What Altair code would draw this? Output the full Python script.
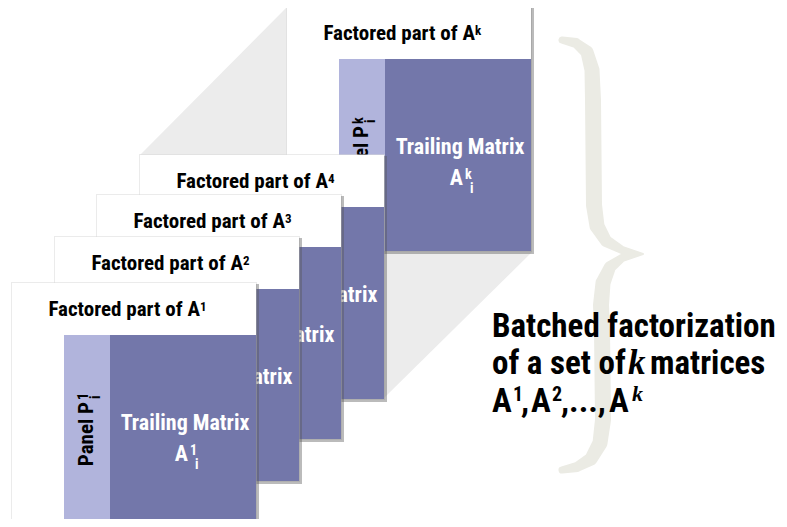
import altair as alt
import pandas as pd

# ---------------- data ----------------
# panels listed back (A^k) to front (A^1); screen-pixel positions of top-left corners
panel_names = ["k", "4", "3", "2", "1"]
panel_left = [287, 140, 97, 55, 12]
panel_top = [7, 155, 195, 237, 283]
panel_size = 244
header_height = 52
column_edges = [52, 98]          # light "Panel" column inside a panel

# grey extrusion between A^4 and A^k
hull_x = [140, 287, 384, 532]
hull_top = [155, 7, 7, 7]
hull_bottom = [398, 398, 398, 252]

# curly brace centre line and stroke widths
brace_x = [562, 576, 587, 592, 593, 594, 597, 606, 622, 643,
           622, 610, 603, 601, 602, 603, 600, 591, 577, 562]
brace_y = [40, 43, 52, 70, 100, 205, 226, 241, 250, 254,
           258, 267, 283, 305, 330, 420, 443, 459, 467, 470]
brace_w = [7, 10, 13, 15, 16, 16, 15, 12, 8, 2,
           8, 12, 15, 16, 16, 16, 15, 13, 10, 7]

# big caption pieces: text, x, baseline y, size, italic
caption_text = ["Batched factorization", "of a set of", "k", "matrices",
                "A", "1", ",", "A", "2", ",...,", "A", "k"]
caption_x = [492, 492, 628, 650, 492, 513, 521, 531, 552, 561, 609, 632]
caption_y = [337, 374, 374, 374, 412, 401, 412, 412, 401, 412, 412, 401]
caption_size = [33, 33, 35, 33, 33, 20, 33, 33, 20, 33, 33, 22]
caption_italic = [False, False, True, False, False, False, False, False, False, False, False, True]

FONT = "Roboto Condensed, Liberation Sans Narrow, Roboto, sans-serif"
SERIF = "Liberation Serif, DejaVu Serif, serif"
DARK = "#7377aa"
LIGHT = "#b1b4dc"
HULL = "#ececec"
BRACE = "#ebebe4"

W, H = 771, 511
xs = alt.Scale(domain=[8, 8 + W], nice=False, zero=False)
ys = alt.Scale(domain=[8, 8 + H], nice=False, zero=False, reverse=True)


def X(f="x"):
    return alt.X(f"{f}:Q", scale=xs, axis=None)


def Y(f="y"):
    return alt.Y(f"{f}:Q", scale=ys, axis=None)


layers = []

# hull
hull_df = pd.DataFrame({"x": hull_x, "y": hull_top, "y2": hull_bottom})
layers.append(
    alt.Chart(hull_df).mark_area(color=HULL, interpolate="linear").encode(
        x=X(), y=Y(), y2="y2:Q"
    )
)

# brace
brace_df = pd.DataFrame({"x": brace_x, "y": brace_y, "w": brace_w,
                         "i": list(range(len(brace_x)))})
layers.append(
    alt.Chart(brace_df).mark_trail(color=BRACE).encode(
        x=X(), y=Y(), size=alt.Size("w:Q", scale=None), order=alt.Order("i:Q")
    )
)

# caption
cap_df = pd.DataFrame({"t": caption_text, "x": caption_x, "y": caption_y,
                       "s": caption_size, "it": caption_italic})
for italic, font, style in [(False, FONT, "normal"), (True, SERIF, "italic")]:
    sub = cap_df[cap_df["it"] == italic]
    layers.append(
        alt.Chart(sub).mark_text(font=font, fontWeight="bold", fontStyle=style,
                                 align="left", baseline="alphabetic", color="black").encode(
            x=X(), y=Y(), text="t:N", size=alt.Size("s:Q", scale=None)
        )
    )

# panels
for name, L, T in zip(panel_names, panel_left, panel_top):
    rects = pd.DataFrame({
        "x": [L - 1, L + 1, L, L + column_edges[0], L + column_edges[1]],
        "x2": [L + panel_size + 1, L + panel_size + 3, L + panel_size,
               L + column_edges[1], L + panel_size],
        "y": [T - 1, T + 1, T, T + header_height, T + header_height],
        "y2": [T + panel_size + 1, T + panel_size + 3, T + panel_size,
               T + panel_size, T + panel_size],
        "c": ["#d8d8d8", "#555555", "white", LIGHT, DARK],
        "o": [0.5, 0.4, 1, 1, 1],
    })
    layers.append(
        alt.Chart(rects).mark_rect(clip=True).encode(
            x=X(), x2="x2:Q", y=Y(), y2="y2:Q",
            color=alt.Color("c:N", scale=None), opacity=alt.Opacity("o:Q", scale=None)
        )
    )
    texts = pd.DataFrame({
        "t": ["Factored part of A", "A", "Panel P", "Trailing Matrix",
              name, name, "i", name, "i"],
        "x": [L + 188, L + 176, L + 81, L + 173,
              L + 188, L + 178, L + 183, L + 76, L + 88],
        "y": [T + 33, T + 178, T + 119, T + 147,
              T + 28, T + 172, T + 186, T + 117, T + 116],
        "s": [21, 22, 21, 22, 13, 14, 14, 14, 14],
        "c": ["black", "white", "black", "white", "black", "white", "white", "black", "black"],
        "a": [0, 0, 270, 0, 0, 0, 0, 270, 270],
        "al": ["right", "right", "right", "center", "left", "left", "left", "left", "left"],
    })
    for al in ["left", "center", "right"]:
        sub = texts[texts["al"] == al]
        layers.append(
            alt.Chart(sub).mark_text(font=FONT, fontWeight="bold", align=al,
                                     baseline="alphabetic", clip=True).encode(
                x=X(), y=Y(), text="t:N",
                size=alt.Size("s:Q", scale=None),
                color=alt.Color("c:N", scale=None),
                angle=alt.Angle("a:Q", scale=None),
            )
        )

chart = alt.layer(*layers).properties(
    width=W, height=H, padding=0, background="white",
    autosize=alt.AutoSizeParams(type="none"),
).configure_view(stroke=None)

chart.save("out.html", embed_options={"renderer": "svg", "actions": False})
